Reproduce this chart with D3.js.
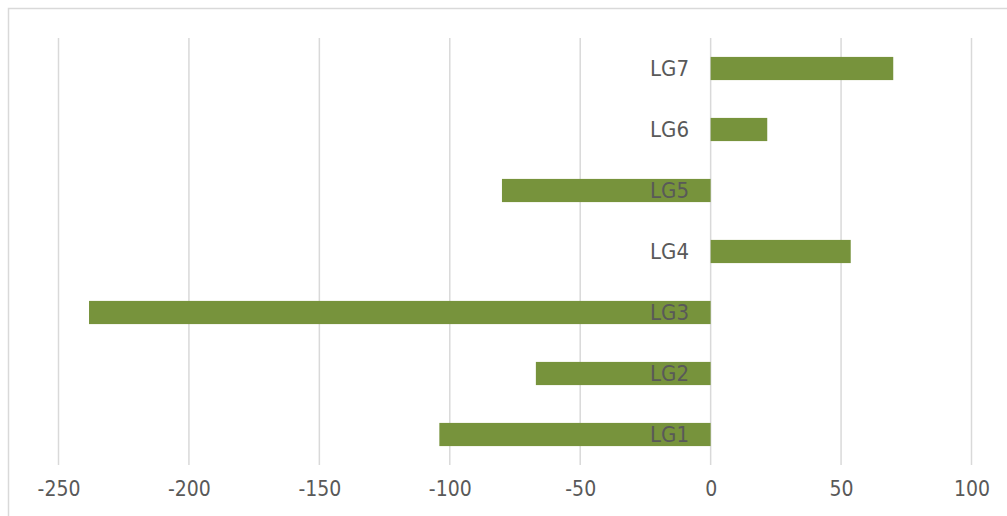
<!DOCTYPE html>
<html>
<head>
<meta charset="utf-8">
<script src="https://cdn.jsdelivr.net/npm/d3@7"></script>
<style>
html,body{margin:0;padding:0;background:#fff;}
svg{display:block;}
text{font-family:"DejaVu Sans Condensed","DejaVu Sans",sans-serif;fill:#595959;}
</style>
</head>
<body>
<svg id="chart" width="1007" height="516"></svg>
<script>
const categories = ["LG1","LG2","LG3","LG4","LG5","LG6","LG7"];
const values = [-104, -67, -238.3, 53.7, -80, 21.7, 70];
const tickValues = [-250,-200,-150,-100,-50,0,50,100];

const svg = d3.select("#chart");
const W = 1007, H = 516;

// chart border
svg.append("rect").attr("x",8.5).attr("y",8.5).attr("width",W+10).attr("height",H+10)
  .attr("fill","none").attr("stroke","#d9d9d9").attr("stroke-width",1.5);

const x = d3.scaleLinear().domain([-250,100]).range([58.5,971.5]);
const y = d3.scaleBand().domain(categories.slice().reverse()).range([38,465]).paddingInner(0.62).paddingOuter(0.31);

// gridlines
svg.append("g").selectAll("line").data(tickValues).join("line")
  .attr("x1",d=>x(d)).attr("x2",d=>x(d)).attr("y1",38).attr("y2",465)
  .attr("stroke","#d9d9d9").attr("stroke-width",1.5);

// bars
svg.append("g").selectAll("rect").data(categories).join("rect")
  .attr("x",(d,i)=>x(Math.min(0,values[i])))
  .attr("width",(d,i)=>Math.abs(x(values[i])-x(0)))
  .attr("y",d=>y(d))
  .attr("height",y.bandwidth())
  .attr("fill","#77933c");

// x axis tick labels
const xAxis = d3.axisBottom(x).tickValues(tickValues).tickSize(0).tickPadding(0).tickFormat(d=>String(d));
const gx = svg.append("g").attr("transform","translate(0,481)").call(xAxis);
gx.select(".domain").remove();
gx.selectAll("text").attr("font-size","21px").attr("fill","#595959")
  .attr("font-family","'DejaVu Sans Condensed','DejaVu Sans',sans-serif");

// category labels
const yAxis = d3.axisLeft(y).tickSize(0).tickPadding(0);
const gy = svg.append("g").attr("transform","translate(689,0)").call(yAxis);
gy.select(".domain").remove();
gy.selectAll("text").attr("font-size","22px").attr("fill","#595959")
  .attr("font-family","'DejaVu Sans Condensed','DejaVu Sans',sans-serif");
</script>
</body>
</html>
